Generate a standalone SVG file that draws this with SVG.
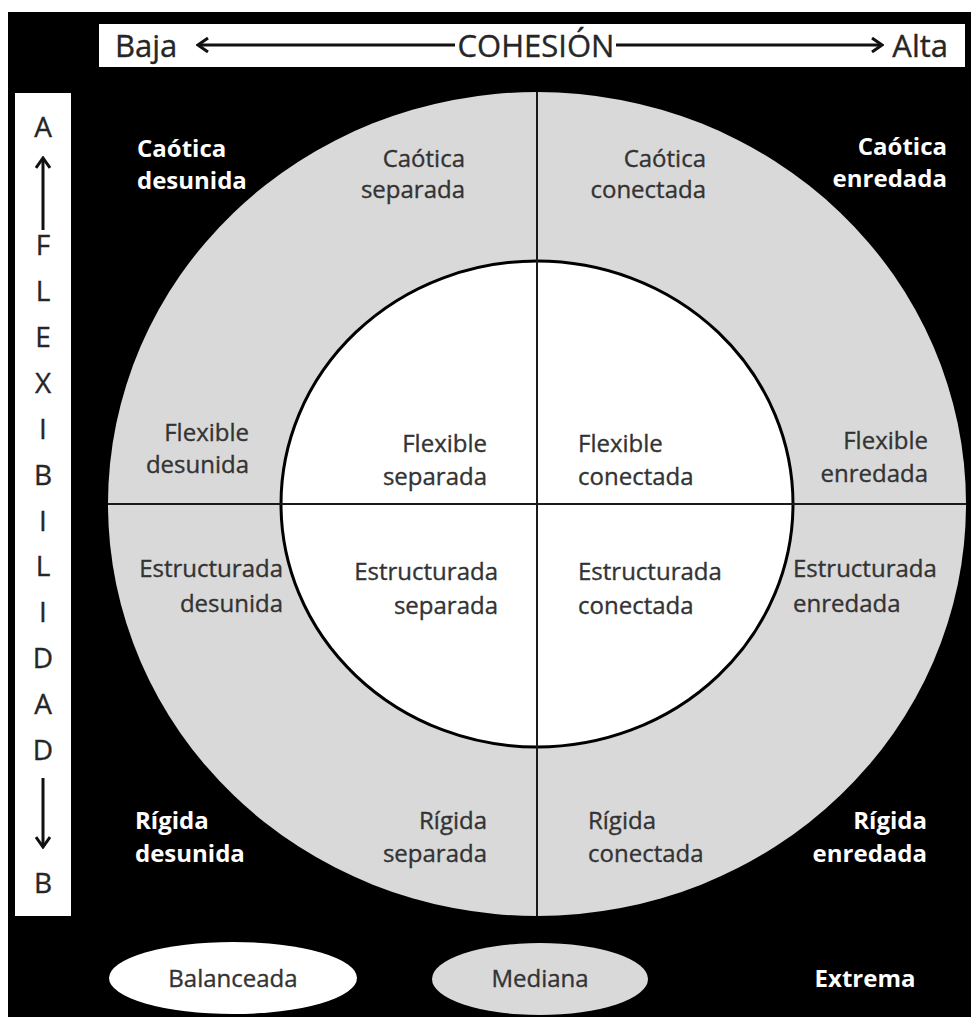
<svg xmlns="http://www.w3.org/2000/svg" width="971" height="1017" viewBox="0 0 971 1017">
<style>
.lbl{font-family:"Open Sans","Liberation Sans",sans-serif;font-size:24px;fill:#333333;stroke:#333333;stroke-width:0.35}
.ext{font-family:"Open Sans","Liberation Sans",sans-serif;font-size:24px;font-weight:bold;fill:#ffffff}
.axis{font-family:"Open Sans","Liberation Sans",sans-serif;font-size:31px;fill:#262626;stroke:#262626;stroke-width:0.35}
.vl{font-family:"Open Sans","Liberation Sans",sans-serif;font-size:28px;fill:#262626;stroke:#262626;stroke-width:0.35;text-anchor:middle}
.r{text-anchor:end}
.arr{stroke:#111;stroke-width:3;fill:none;marker-end:url(#chev)}
.div{stroke:#1a1a1a;stroke-width:2}
</style>
<defs>
<marker id="chev" markerUnits="userSpaceOnUse" viewBox="0 0 16 16" refX="14" refY="8" markerWidth="16" markerHeight="16" orient="auto">
<path d="M4,1 L14,8 L4,15" fill="none" stroke="#111" stroke-width="3"/>
</marker>
</defs>
<rect x="0" y="0" width="971" height="1017" fill="#ffffff"/>
<rect x="8" y="12" width="963" height="1005" fill="#000000"/>
<g id="cohesion-bar">
<rect x="99" y="24" width="866" height="43" fill="#ffffff"/>
<text class="axis" x="115" y="57">Baja</text>
<text class="axis" x="536" y="57" text-anchor="middle">COHESIÓN</text>
<text class="axis" x="948" y="57" text-anchor="end">Alta</text>
</g>
<g id="flexibilidad-bar">
<rect x="15" y="93" width="56" height="823" fill="#ffffff"/>
<text class="vl" x="43" y="137">A</text>
<text class="vl" x="43" y="255">F</text>
<text class="vl" x="43" y="301">L</text>
<text class="vl" x="43" y="347">E</text>
<text class="vl" x="43" y="393">X</text>
<text class="vl" x="43" y="439">I</text>
<text class="vl" x="43" y="485">B</text>
<text class="vl" x="43" y="531">I</text>
<text class="vl" x="43" y="576">L</text>
<text class="vl" x="43" y="622">I</text>
<text class="vl" x="43" y="668">D</text>
<text class="vl" x="43" y="714">A</text>
<text class="vl" x="43" y="760">D</text>
<text class="vl" x="43" y="893">B</text>
</g>
<g id="outer-ring">
<ellipse cx="537" cy="504" rx="429" ry="412" fill="#d9d9d9"/>
</g>
<g id="inner-circle">
<ellipse cx="537" cy="504" rx="256" ry="243" fill="#ffffff" stroke="#000" stroke-width="3"/>
</g>
<g id="connectors">
<line class="div" x1="537" y1="92" x2="537" y2="916"/>
<line class="div" x1="108" y1="504" x2="966" y2="504"/>
<line class="arr" x1="455" y1="45" x2="198" y2="45"/>
<line class="arr" x1="616" y1="45" x2="882" y2="45"/>
<line class="arr" x1="43" y1="230" x2="43" y2="158"/>
<line class="arr" x1="43" y1="778" x2="43" y2="847"/>
</g>
<g id="caotica-desunida"><text class="ext" x="137" y="157">Caótica</text><text class="ext" x="137" y="189">desunida</text></g>
<g id="caotica-separada"><text class="lbl r" x="465" y="167">Caótica</text><text class="lbl r" x="465" y="198">separada</text></g>
<g id="caotica-conectada"><text class="lbl r" x="706" y="167">Caótica</text><text class="lbl r" x="706" y="198">conectada</text></g>
<g id="caotica-enredada"><text class="ext r" x="947" y="155">Caótica</text><text class="ext r" x="947" y="187">enredada</text></g>
<g id="flexible-desunida"><text class="lbl r" x="249" y="441">Flexible</text><text class="lbl r" x="249" y="473">desunida</text></g>
<g id="flexible-separada"><text class="lbl r" x="487" y="452">Flexible</text><text class="lbl r" x="487" y="485">separada</text></g>
<g id="flexible-conectada"><text class="lbl" x="578" y="452">Flexible</text><text class="lbl" x="578" y="485">conectada</text></g>
<g id="flexible-enredada"><text class="lbl r" x="928" y="449">Flexible</text><text class="lbl r" x="928" y="482">enredada</text></g>
<g id="estructurada-desunida"><text class="lbl r" x="283" y="577">Estructurada</text><text class="lbl r" x="283" y="612">desunida</text></g>
<g id="estructurada-separada"><text class="lbl r" x="498" y="580">Estructurada</text><text class="lbl r" x="498" y="614">separada</text></g>
<g id="estructurada-conectada"><text class="lbl" x="578" y="580">Estructurada</text><text class="lbl" x="578" y="614">conectada</text></g>
<g id="estructurada-enredada"><text class="lbl" x="793" y="577">Estructurada</text><text class="lbl" x="793" y="612">enredada</text></g>
<g id="rigida-desunida"><text class="ext" x="135" y="829">Rígida</text><text class="ext" x="135" y="862">desunida</text></g>
<g id="rigida-separada"><text class="lbl r" x="487" y="829">Rígida</text><text class="lbl r" x="487" y="862">separada</text></g>
<g id="rigida-conectada"><text class="lbl" x="588" y="829">Rígida</text><text class="lbl" x="588" y="862">conectada</text></g>
<g id="rigida-enredada"><text class="ext r" x="927" y="829">Rígida</text><text class="ext r" x="927" y="862">enredada</text></g>
<g id="legend-balanceada"><ellipse cx="233" cy="978" rx="124" ry="36" fill="#ffffff"/><text class="lbl" x="233" y="987" text-anchor="middle">Balanceada</text></g>
<g id="legend-mediana"><ellipse cx="540" cy="979" rx="108" ry="36" fill="#d9d9d9"/><text class="lbl" x="540" y="987" text-anchor="middle">Mediana</text></g>
<g id="legend-extrema"><text class="ext" x="865" y="987" text-anchor="middle">Extrema</text></g>
</svg>
